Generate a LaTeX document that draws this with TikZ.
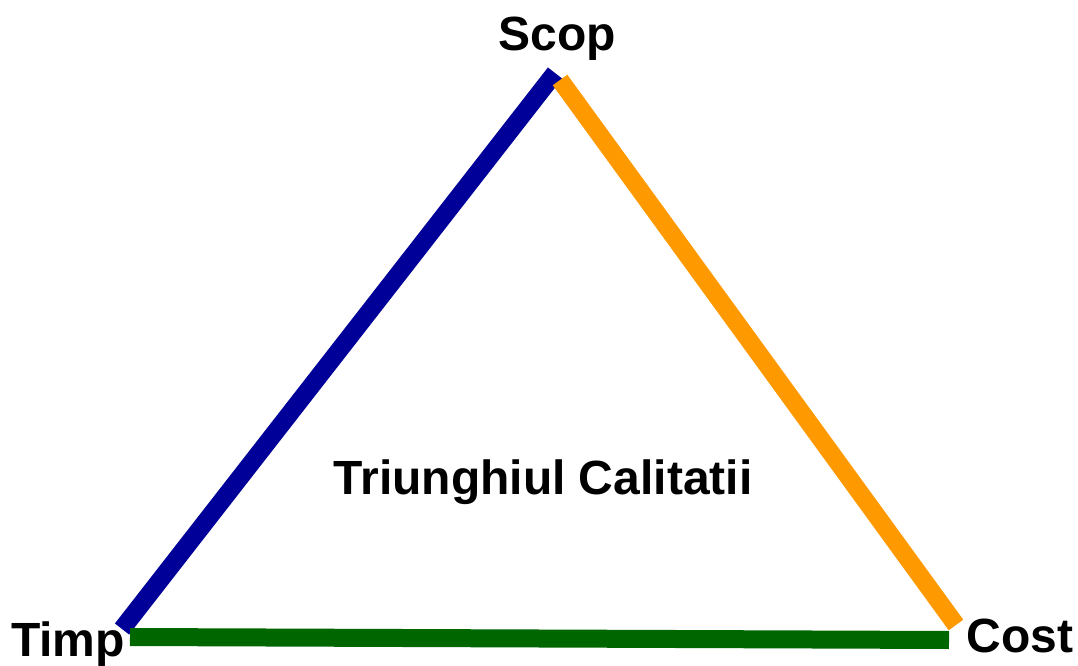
\documentclass[tikz,border=0pt]{standalone}
\usepackage{fontspec}
\setmainfont{Liberation Sans}
\usetikzlibrary{positioning}
\definecolor{latura1}{RGB}{0,0,153}
\definecolor{latura2}{RGB}{255,153,0}
\definecolor{latura3}{RGB}{0,102,0}
\tikzset{
  varf/.style={font=\fontsize{36}{43}\selectfont\bfseries,anchor=base,inner sep=0pt},
  latura/.style={line width=13.5pt,line cap=butt}
}

\begin{document}
\begin{tikzpicture}[x=0.75pt,y=-0.75pt]
\useasboundingbox (0,0) rectangle (1078,666);
% capetele laturilor
\coordinate (s1) at (555,73);
\coordinate (t1) at (122,629);
\coordinate (s2) at (560,80);
\coordinate (c2) at (956,625);
\coordinate (t3) at (130,637);
\coordinate (c3) at (949,640);
\draw[latura,latura1] (s1)--(t1);
\draw[latura,latura2] (s2)--(c2);
\draw[latura,latura3] (t3)--(c3);
\node[varf] (scop) at (557,51) {Scop};
\node[varf] (timp) at (68,656) {Timp};
\node[varf] (cost) at (1020,652) {Cost};
\node[varf] (titlu) at (543,494) {Triunghiul Calitatii};
\end{tikzpicture}
\end{document}
